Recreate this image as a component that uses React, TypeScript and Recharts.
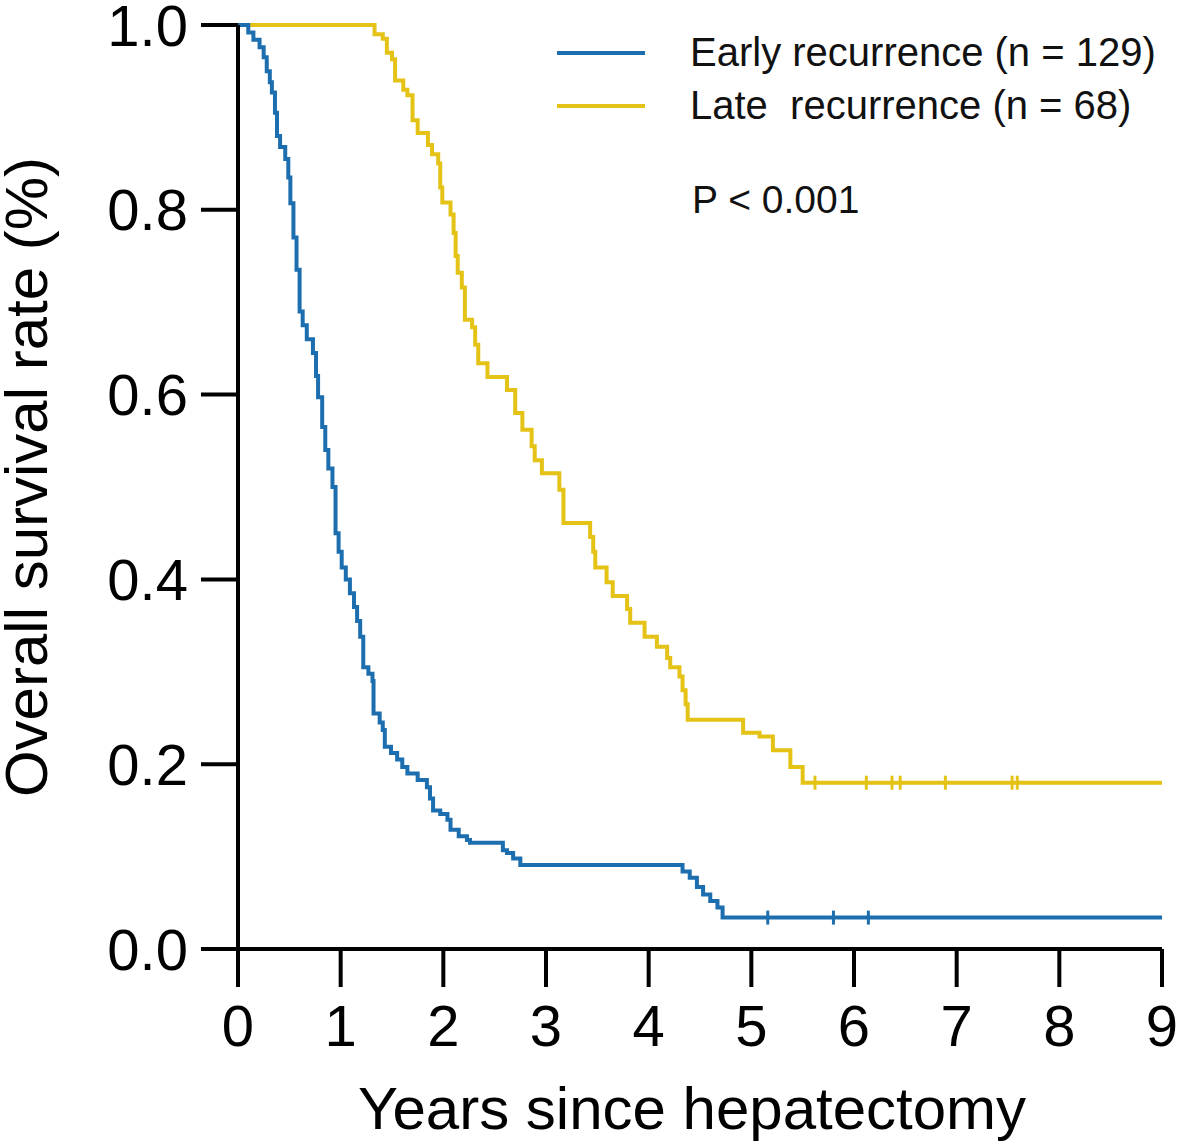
import React from "react";
import { ComposedChart, Line, Scatter, XAxis, YAxis } from "recharts";

// Kaplan-Meier: early vs late recurrence after hepatectomy
const BLUE = "#1C6EAF";
const GOLD = "#E4C316";
const FONT = "'Liberation Sans', Arial, Helvetica, sans-serif";

const earlyTime = [
  0, 0.1, 0.15, 0.21, 0.25, 0.28, 0.31, 0.33, 0.36, 0.38, 0.41, 0.46, 0.49, 0.51, 0.54, 0.57, 0.6, 0.63,
  0.67, 0.73, 0.76, 0.78, 0.82, 0.85, 0.88, 0.92, 0.95, 0.98, 1.01, 1.05, 1.09, 1.13, 1.16, 1.19, 1.22,
  1.27, 1.31, 1.32, 1.38, 1.41, 1.43, 1.49, 1.55, 1.6, 1.65, 1.75, 1.84, 1.87, 1.9, 1.97, 2.04, 2.07,
  2.15, 2.23, 2.26, 2.58, 2.62, 2.68, 2.75, 4.33, 4.4, 4.47, 4.53, 4.6, 4.67, 4.72, 9,
];
const earlySurv = [
  1, 0.992, 0.984, 0.976, 0.965, 0.95, 0.938, 0.927, 0.905, 0.88, 0.868, 0.855, 0.835, 0.807, 0.77, 0.735,
  0.69, 0.675, 0.66, 0.645, 0.62, 0.597, 0.565, 0.54, 0.52, 0.5, 0.45, 0.43, 0.413, 0.4, 0.385, 0.37,
  0.355, 0.338, 0.305, 0.298, 0.29, 0.255, 0.245, 0.237, 0.219, 0.212, 0.205, 0.197, 0.19, 0.183, 0.175,
  0.163, 0.15, 0.146, 0.14, 0.129, 0.122, 0.118, 0.115, 0.107, 0.104, 0.098, 0.091, 0.084, 0.077, 0.067,
  0.059, 0.052, 0.045, 0.034, 0.034,
];
const lateTime = [
  0, 1.33, 1.41, 1.45, 1.5, 1.53, 1.61, 1.65, 1.7, 1.75, 1.85, 1.89, 1.95, 1.97, 1.99, 2.07, 2.1, 2.12,
  2.14, 2.18, 2.21, 2.28, 2.31, 2.34, 2.43, 2.62, 2.7, 2.77, 2.86, 2.89, 2.96, 3.13, 3.17, 3.43, 3.46,
  3.48, 3.59, 3.65, 3.79, 3.82, 3.96, 4.08, 4.18, 4.21, 4.3, 4.33, 4.36, 4.38, 4.92, 5.08, 5.21, 5.38,
  5.5, 9,
];
const lateSurv = [
  1, 0.99, 0.985, 0.97, 0.963, 0.94, 0.93, 0.924, 0.897, 0.883, 0.87, 0.86, 0.85, 0.824, 0.808, 0.795,
  0.775, 0.75, 0.732, 0.716, 0.681, 0.673, 0.654, 0.634, 0.619, 0.605, 0.58, 0.562, 0.544, 0.529, 0.515,
  0.497, 0.461, 0.446, 0.43, 0.413, 0.397, 0.382, 0.368, 0.353, 0.338, 0.327, 0.315, 0.305, 0.295, 0.28,
  0.265, 0.248, 0.234, 0.23, 0.215, 0.197, 0.18, 0.18,
];
const earlyCensor = [5.16, 5.8, 6.14];
const lateCensor = [5.62, 6.12, 6.37, 6.45, 6.89, 7.54, 7.59];
const xTicks = [0, 1, 2, 3, 4, 5, 6, 7, 8, 9];
const yTicks = [0, 0.2, 0.4, 0.6, 0.8, 1];

const zip = (t: number[], s: number[]) => t.map((x, i) => ({ t: x, s: s[i] }));
const early = zip(earlyTime, earlySurv);
const late = zip(lateTime, lateSurv);
const earlyMarks = earlyCensor.map((t) => ({ t, s: earlySurv[earlySurv.length - 1] }));
const lateMarks = lateCensor.map((t) => ({ t, s: lateSurv[lateSurv.length - 1] }));

const tick = { fontSize: 58, fill: "#000", fontFamily: FONT } as const;
const axisLine = { stroke: "#000", strokeWidth: 4 };

const censor = (color: string) => (p: { cx?: number; cy?: number }) => (
  <line x1={p.cx} x2={p.cx} y1={(p.cy ?? 0) - 7} y2={(p.cy ?? 0) + 7} stroke={color} strokeWidth={3} />
);

export default function App() {
  return (
    <div style={{ position: "absolute", left: 0, top: 0, width: 1181, height: 1147, background: "#fff", fontFamily: FONT }}>
      <ComposedChart width={1181} height={1147} margin={{ top: 25, right: 19, bottom: 0, left: 0 }}>
        <XAxis type="number" dataKey="t" domain={[0, 9]} ticks={xTicks} interval={0} tick={tick}
          axisLine={axisLine} tickLine={axisLine} tickSize={38} tickMargin={18} height={198} allowDuplicatedCategory={false} />
        <YAxis type="number" dataKey="s" domain={[0, 1]} ticks={yTicks} interval={0} tick={tick}
          tickFormatter={(v: number) => v.toFixed(1)} axisLine={axisLine} tickLine={axisLine}
          tickSize={37} tickMargin={13} width={238} />
        <Line data={late} dataKey="s" type="stepAfter" stroke={GOLD} strokeWidth={4} dot={false} isAnimationActive={false} />
        <Line data={early} dataKey="s" type="stepAfter" stroke={BLUE} strokeWidth={4} dot={false} isAnimationActive={false} />
        <Scatter data={lateMarks} dataKey="s" shape={censor(GOLD)} isAnimationActive={false} />
        <Scatter data={earlyMarks} dataKey="s" shape={censor(BLUE)} isAnimationActive={false} />
      </ComposedChart>

      {/* axis titles */}
      <div style={{ position: "absolute", left: 230, width: 924, top: 1079, textAlign: "center", fontSize: 60, lineHeight: "60px", color: "#000" }}>
        Years since hepatectomy
      </div>
      <div style={{ position: "absolute", left: 27, top: 477, width: 0, height: 0 }}>
        <div style={{ position: "absolute", left: -400, top: -30, width: 800, textAlign: "center", fontSize: 60, lineHeight: "60px", transform: "rotate(-90deg)", color: "#000", whiteSpace: "nowrap" }}>
          Overall survival rate (%)
        </div>
      </div>

      {/* legend */}
      <div style={{ position: "absolute", left: 557, top: 51, width: 88, height: 4, background: BLUE }} />
      <div style={{ position: "absolute", left: 557, top: 104, width: 88, height: 4, background: GOLD }} />
      <div style={{ position: "absolute", left: 690, top: 32, fontSize: 40, lineHeight: "40px", whiteSpace: "pre", color: "#111" }}>
        Early recurrence (n = 129)
      </div>
      <div style={{ position: "absolute", left: 690, top: 85, fontSize: 40, lineHeight: "40px", whiteSpace: "pre", color: "#111" }}>
        {"Late  recurrence (n = 68)"}
      </div>
      <div style={{ position: "absolute", left: 692, top: 180, fontSize: 39, lineHeight: "39px", whiteSpace: "pre", color: "#111" }}>
        P &lt; 0.001
      </div>
    </div>
  );
}
